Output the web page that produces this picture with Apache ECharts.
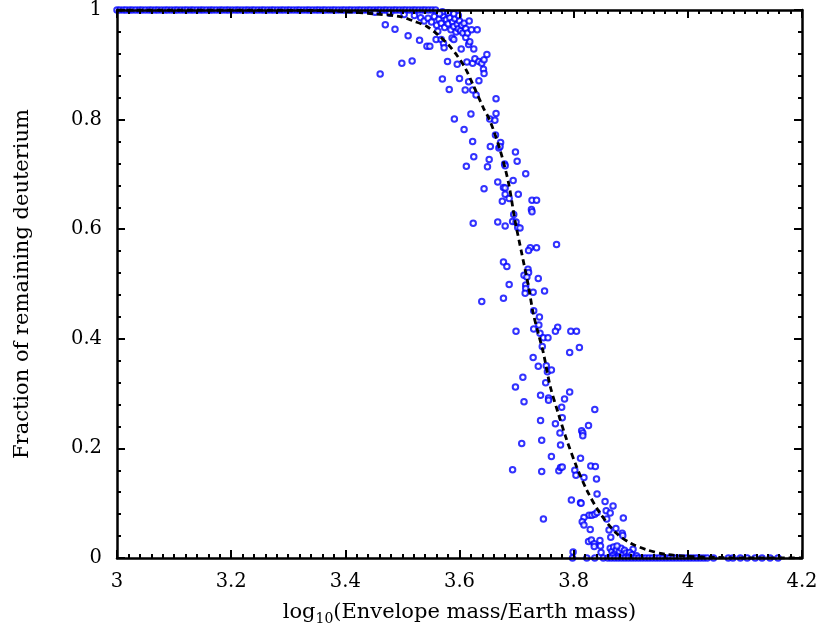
<!DOCTYPE html>
<html>
<head>
<meta charset="utf-8">
<script src="https://cdn.jsdelivr.net/npm/echarts@6/dist/echarts.min.js"></script>
<style>
  html, body { margin: 0; padding: 0; background: #fff; }
  #chart { width: 822px; height: 634px; }
</style>
</head>
<body>
<div id="chart"></div>
<script>
// x ticks / y ticks
const xTicks = [3, 3.2, 3.4, 3.6, 3.8, 4, 4.2];
const yTicks = [0, 0.2, 0.4, 0.6, 0.8, 1];

// points sitting at full deuterium (y = 1)
const topBandX = [3.000,3.005,3.011,3.016,3.022,3.027,3.033,3.039,3.044,3.050,3.056,3.061,3.067,3.072,3.078,3.084,3.089,3.095,3.101,3.106,3.112,3.118,3.123,3.129,3.134,3.140,3.146,3.151,3.157,3.163,3.168,3.174,3.180,3.185,3.191,3.196,3.202,3.208,3.213,3.219,3.225,3.230,3.236,3.241,3.247,3.253,3.258,3.264,3.270,3.275,3.281,3.287,3.292,3.298,3.303,3.309,3.315,3.320,3.326,3.332,3.337,3.343,3.349,3.354,3.360,3.365,3.371,3.377,3.382,3.388,3.394,3.399,3.405,3.410,3.416,3.422,3.427,3.433,3.439,3.444,3.450,3.456,3.461,3.467,3.472,3.478,3.484,3.489,3.495,3.501,3.506,3.512,3.518,3.523,3.529,3.535,3.540,3.546,3.552,3.558];

// points burnt out completely (y = 0)
const bottomBandX = [3.798,3.823,3.837,3.852,3.860,3.866,3.872,3.878,3.884,3.890,3.896,3.902,3.908,3.914,3.920,3.926,3.932,3.938,3.944,3.950,3.956,3.962,3.968,3.974,3.980,3.986,3.992,3.998,4.004,4.010,4.016,4.022,4.028,4.034,4.045,4.071,4.079,4.092,4.104,4.118,4.130,4.144,4.158];

// points just below 1
const nearTopPts = [[3.452,0.996],[3.478,0.994],[3.503,0.992],[3.521,0.990],[3.532,0.986],[3.538,0.980],[3.545,0.985],[3.551,0.978],[3.556,0.988],[3.560,0.972],[3.564,0.983],[3.568,0.976],[3.571,0.990],[3.574,0.968],[3.577,0.982],[3.580,0.975],[3.583,0.986],[3.585,0.964],[3.588,0.978],[3.590,0.970],[3.592,0.984],[3.594,0.960],[3.596,0.974],[3.598,0.966],[3.600,0.980],[3.602,0.962],[3.604,0.972],[3.606,0.958],[3.608,0.976],[3.611,0.966],[3.598,0.990],[3.590,0.993],[3.580,0.995],[3.570,0.997],[3.565,0.993]];

// scattered points in the transition
const midPts = [[3.470,0.973],[3.487,0.965],[3.510,0.953],[3.530,0.945],[3.543,0.934],[3.548,0.934],[3.499,0.903],[3.517,0.907],[3.461,0.883],[3.562,0.961],[3.559,0.946],[3.568,0.946],[3.572,0.939],[3.573,0.931],[3.587,0.949],[3.590,0.946],[3.579,0.906],[3.570,0.874],[3.582,0.855],[3.600,0.875],[3.596,0.901],[3.603,0.929],[3.610,0.854],[3.613,0.905],[3.616,0.869],[3.623,0.854],[3.629,0.845],[3.623,0.903],[3.627,0.911],[3.634,0.906],[3.639,0.903],[3.643,0.909],[3.648,0.919],[3.642,0.892],[3.643,0.884],[3.634,0.871],[3.625,0.929],[3.616,0.937],[3.618,0.942],[3.611,0.950],[3.614,0.958],[3.621,0.964],[3.631,0.964],[3.617,0.980],[3.664,0.838],
[3.591,0.801],[3.620,0.810],[3.664,0.811],[3.653,0.801],[3.662,0.799],[3.608,0.782],[3.623,0.760],[3.663,0.772],[3.672,0.758],[3.654,0.751],[3.669,0.748],[3.671,0.751],[3.698,0.741],[3.625,0.732],[3.652,0.727],[3.701,0.724],[3.612,0.715],[3.649,0.714],[3.679,0.719],[3.680,0.716],[3.716,0.701],[3.667,0.686],[3.694,0.689],[3.643,0.674],[3.677,0.676],[3.680,0.675],[3.703,0.664],[3.680,0.664],[3.687,0.656],[3.675,0.651],[3.727,0.653],[3.735,0.653],[3.726,0.636],[3.727,0.632],[3.695,0.627],[3.624,0.611],[3.667,0.613],[3.680,0.606],[3.693,0.614],[3.699,0.613],[3.702,0.603],[3.706,0.602],[3.770,0.572],[3.724,0.566],[3.721,0.561],[3.735,0.566],[3.677,0.540],[3.683,0.532],[3.720,0.527],[3.721,0.521],[3.713,0.516],[3.718,0.513],[3.738,0.510],[3.687,0.499],[3.716,0.498],[3.716,0.492],[3.715,0.483],[3.729,0.485],[3.749,0.487],[3.639,0.468],[3.677,0.474],[3.730,0.451],[3.740,0.440],[3.739,0.425],[3.772,0.421],[3.768,0.414],[3.795,0.414],[3.805,0.414],[3.699,0.414],[3.730,0.418],[3.741,0.410],[3.747,0.402],[3.755,0.402],
[3.793,0.375],[3.810,0.384],[3.729,0.366],[3.738,0.350],[3.745,0.386],[3.752,0.351],[3.754,0.340],[3.761,0.343],[3.711,0.330],[3.698,0.312],[3.713,0.285],[3.751,0.320],[3.742,0.297],[3.756,0.292],[3.756,0.288],[3.784,0.290],[3.793,0.303],[3.779,0.275],[3.837,0.271],[3.742,0.251],[3.768,0.245],[3.780,0.256],[3.776,0.228],[3.814,0.232],[3.816,0.228],[3.816,0.223],[3.826,0.242],[3.709,0.209],[3.744,0.215],[3.777,0.206],[3.761,0.185],[3.693,0.161],[3.744,0.158],[3.774,0.159],[3.777,0.165],[3.780,0.166],[3.802,0.160],[3.804,0.151],[3.812,0.182],[3.818,0.147],[3.830,0.168],[3.838,0.167],[3.840,0.144],[3.841,0.117],[3.796,0.106],[3.812,0.101],[3.813,0.100],[3.855,0.103],[3.869,0.095],[3.857,0.086],[3.864,0.082],[3.887,0.073],[3.747,0.071],[3.827,0.078],[3.832,0.078],[3.837,0.080],[3.841,0.083],[3.818,0.074],[3.815,0.066],[3.818,0.060],[3.829,0.052],[3.858,0.071],[3.862,0.051],[3.874,0.054],[3.885,0.045],[3.886,0.041],[3.865,0.038],[3.826,0.030],[3.831,0.033],[3.836,0.026],[3.836,0.021],[3.846,0.032],[3.847,0.022],[3.904,0.016],[3.848,0.010],[3.799,0.011]];

// cluster just above zero
const nearBottomPts = [[3.864,0.018],[3.867,0.012],[3.870,0.020],[3.872,0.008],[3.875,0.015],[3.878,0.004],[3.880,0.012],[3.883,0.018],[3.886,0.006],[3.889,0.014],[3.892,0.009],[3.895,0.004],[3.868,0.004],[3.876,0.022],[3.898,0.010],[3.902,0.006],[3.910,0.004]];

// dashed fit curve
const curveX = [3.0,3.2,3.35,3.40,3.45,3.496,3.519,3.543,3.563,3.581,3.595,3.610,3.624,3.642,3.653,3.671,3.686,3.697,3.709,3.721,3.729,3.738,3.747,3.759,3.773,3.788,3.805,3.823,3.846,3.875,3.900,3.928,3.960,4.000,4.050,4.10,4.20];
const curveY = [1,1,0.999,0.997,0.993,0.988,0.980,0.970,0.954,0.936,0.918,0.894,0.863,0.821,0.799,0.745,0.684,0.617,0.556,0.495,0.447,0.410,0.374,0.313,0.264,0.215,0.167,0.124,0.082,0.045,0.027,0.015,0.007,0.003,0.001,0,0];

const scatterData = []
  .concat(topBandX.map((x) => [x, 1]))
  .concat(nearTopPts)
  .concat(midPts)
  .concat(nearBottomPts)
  .concat(bottomBandX.map((x) => [x, 0]));

const curveData = curveX.map((x, i) => [x, curveY[i]]);

const FONT = "'DejaVu Serif', 'Liberation Serif', serif";
const axisLine = { show: true, onZero: false, lineStyle: { color: "#000", width: 2.5 } };

const makeX = (pos, showLabel) => ({
  type: "value",
  position: pos,
  min: xTicks[0],
  max: xTicks[xTicks.length - 1],
  interval: 0.2,
  z: 5,
  axisLine: axisLine,
  axisTick: { show: true, inside: true, length: 8, lineStyle: { color: "#000", width: 2 } },
  minorTick: { show: true, splitNumber: 10, length: 4, lineStyle: { color: "#000", width: 2 } },
  splitLine: { show: false },
  axisLabel: {
    show: showLabel,
    margin: 14,
    color: "#000",
    fontFamily: FONT,
    fontSize: 19.5,
  },
});

const makeY = (pos, showLabel) => ({
  type: "value",
  position: pos,
  min: yTicks[0],
  max: yTicks[yTicks.length - 1],
  interval: 0.2,
  z: 5,
  axisLine: axisLine,
  axisTick: { show: true, inside: true, length: 8, lineStyle: { color: "#000", width: 2 } },
  minorTick: { show: true, splitNumber: 5, length: 4, lineStyle: { color: "#000", width: 2 } },
  splitLine: { show: false },
  axisLabel: {
    show: showLabel,
    margin: 15,
    color: "#000",
    fontFamily: FONT,
    fontSize: 19.5,
  },
});

const chart = echarts.init(document.getElementById("chart"));

chart.setOption({
  animation: false,
  backgroundColor: "#fff",
  grid: { left: 117, right: 20, top: 10, bottom: 76 },
  xAxis: [
    Object.assign(makeX("bottom", true), {
      name: "log{sub|10}(Envelope mass/Earth mass)",
      nameLocation: "middle",
      nameGap: 42,
      nameTextStyle: {
        color: "#000",
        fontFamily: FONT,
        fontSize: 21,
        rich: {
          sub: { fontFamily: FONT, fontSize: 14, color: "#000", padding: [12, 0, 0, 0] },
        },
      },
    }),
    makeX("top", false),
  ],
  yAxis: [
    Object.assign(makeY("left", true), {
      name: "Fraction of remaining deuterium",
      nameLocation: "middle",
      nameGap: 84,
      nameTextStyle: { color: "#000", fontFamily: FONT, fontSize: 21 },
    }),
    makeY("right", false),
  ],
  series: [
    {
      type: "scatter",
      data: scatterData,
      symbol: "emptyCircle",
      symbolSize: 5.5,
      clip: false,
      itemStyle: { color: "#0000ff", borderWidth: 1.8 },
      z: 2,
    },
    {
      type: "line",
      data: curveData,
      smooth: 0.3,
      showSymbol: false,
      lineStyle: { color: "#000", width: 2.8, type: [6, 4] },
      z: 3,
    },
  ],
});
</script>
</body>
</html>
